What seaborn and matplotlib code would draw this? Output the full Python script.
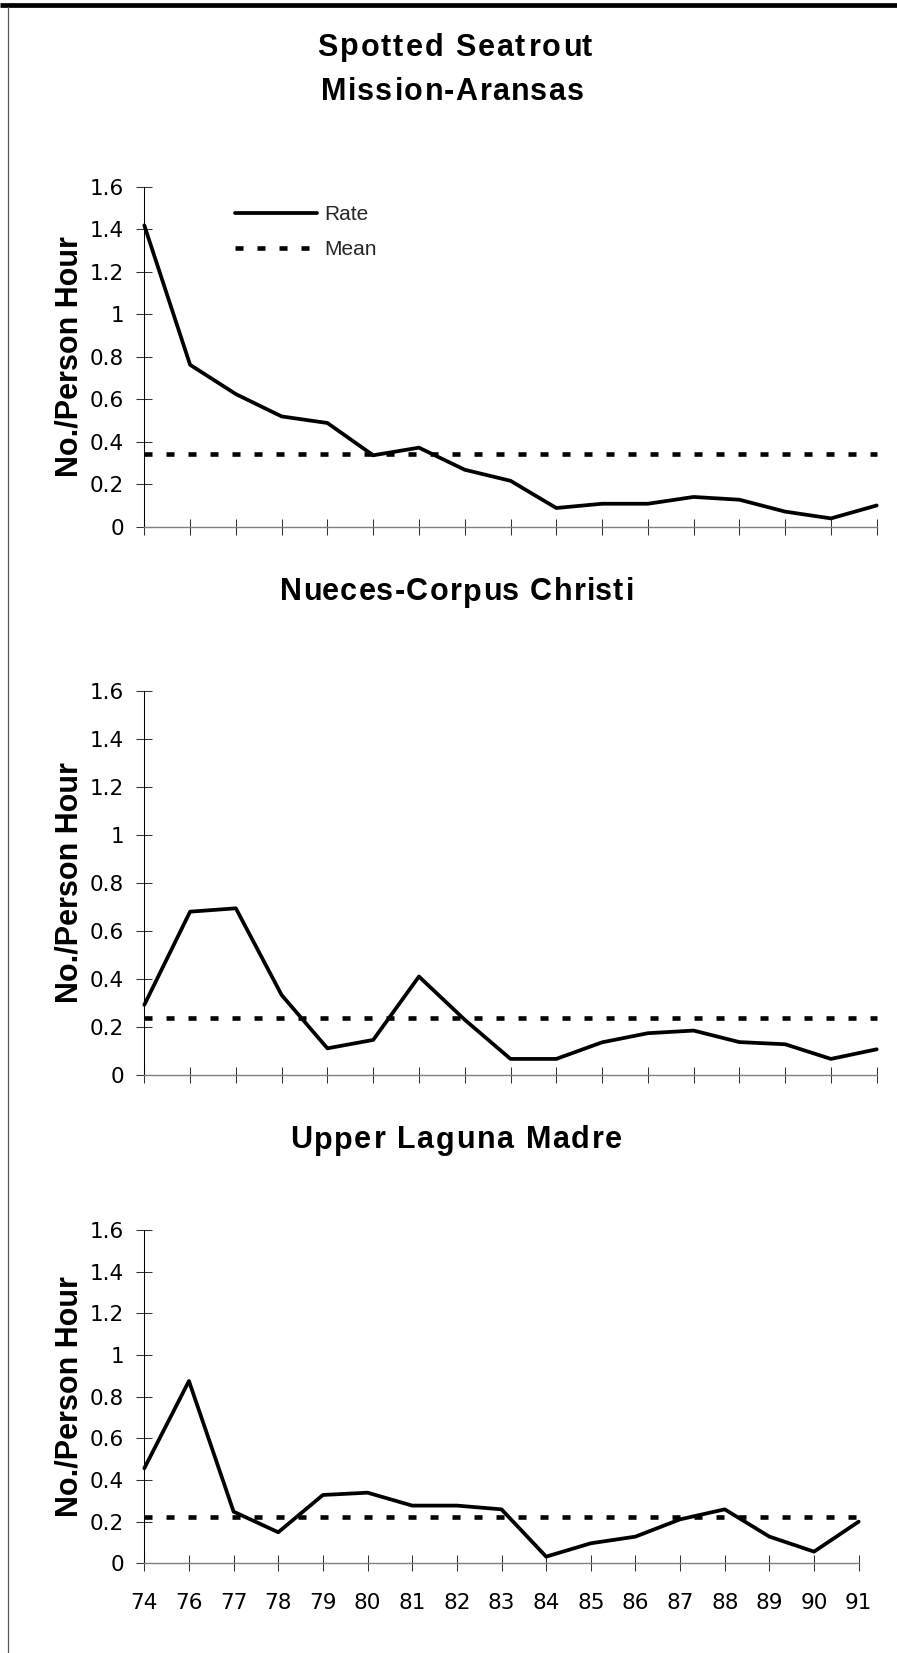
import numpy as np
import pandas as pd
import matplotlib
matplotlib.use("Agg")
import matplotlib.pyplot as plt
import seaborn as sns
from matplotlib.lines import Line2D
from matplotlib.ft2font import FT2Font
from matplotlib import font_manager as fm

# ---------------- data ----------------
years = ["74", "76", "77", "78", "79", "80", "81", "82", "83",
         "84", "85", "86", "87", "88", "89", "90", "91"]
rate_mission = [1.418, 0.762, 0.624, 0.519, 0.488, 0.336, 0.372, 0.268, 0.216,
                0.088, 0.108, 0.108, 0.140, 0.127, 0.071, 0.039, 0.100]
rate_nueces = [0.292, 0.680, 0.694, 0.333, 0.111, 0.146, 0.410, 0.230, 0.067,
               0.067, 0.136, 0.174, 0.185, 0.137, 0.128, 0.067, 0.107]
rate_laguna = [0.456, 0.875, 0.248, 0.149, 0.328, 0.339, 0.277, 0.277, 0.259,
               0.032, 0.096, 0.128, 0.211, 0.259, 0.128, 0.056, 0.200]
mean_mission = 0.342
mean_nueces = 0.236
mean_laguna = 0.224
y_ticks = [0, 0.2, 0.4, 0.6, 0.8, 1.0, 1.2, 1.4, 1.6]
y_tick_labels = ["0", "0.2", "0.4", "0.6", "0.8", "1", "1.2", "1.4", "1.6"]
ylabel = "No./Person Hour"
legend_labels = ["Rate", "Mean"]

# ---------------- style ----------------
sns.set_style("white")
plt.rcParams["font.family"] = ["Liberation Sans", "DejaVu Sans"]

W, H = 897, 1653
fig = plt.figure(figsize=(W / 100, H / 100), dpi=100)
fig.patch.set_facecolor("white")

# page frame (thick top rule, thin left rule)
fig.add_artist(Line2D([0, 1], [1 - 5.3 / H, 1 - 5.3 / H], color="black",
                      lw=3.4, transform=fig.transFigure, solid_capstyle="butt"))
fig.add_artist(Line2D([8 / W, 8 / W], [1 - 7 / H, 0], color="#555555",
                      lw=0.9, transform=fig.transFigure))

font_path = fm.findfont(fm.FontProperties(family="Liberation Sans", weight="bold"))


def spaced_title(text, cx, baseline, size_pt, extra_px):
    ft = FT2Font(font_path)
    ft.set_size(size_pt, 100)
    glyphs = [ft.load_char(ord(ch)) for ch in text]
    adv = [g.linearHoriAdvance / 65536 for g in glyphs]
    total = sum(adv) + extra_px * (len(text) - 1)
    x = cx - total / 2
    for ch, g, a in zip(text, glyphs, adv):
        if ch != " ":
            fig.text((x + g.horiBearingX / 64) / W, 1 - baseline / H, ch,
                     fontsize=size_pt, fontweight="bold", ha="left",
                     va="baseline", family="Liberation Sans", color="black")
        x += a + extra_px


spaced_title("Spotted Seatrout", 454, 55.5, 22, 2.0)
spaced_title("Mission-Aransas", 451, 100, 22, 1.4)
spaced_title("Nueces-Corpus Christi", 455, 600.5, 22, 1.2)
spaced_title("Upper Laguna Madre", 454.5, 1148.5, 22, 1.7)

panels = [
    (rate_mission, mean_mission, (144.3, 186.7, 876.7, 526.7), False, True),
    (rate_nueces, mean_nueces, (144.3, 690.7, 876.7, 1075.0), False, False),
    (rate_laguna, mean_laguna, (144.3, 1230.0, 858.7, 1563.3), True, False),
]

for rates, mean_val, (l, t, r, b), show_x, show_legend in panels:
    ax = fig.add_axes([l / W, 1 - b / H, (r - l) / W, (b - t) / H])
    df = pd.DataFrame({"idx": np.arange(len(years)), "rate": rates})
    sns.lineplot(data=df, x="idx", y="rate", ax=ax, color="black", lw=2.7,
                 label=legend_labels[0], legend=False, zorder=4, clip_on=False)
    ax.axhline(mean_val, color="black", lw=3.3, dashes=(1.75, 3.05),
               dash_capstyle="butt", label=legend_labels[1], zorder=3,
               clip_on=False)
    ax.set_xlim(0, len(years) - 1)
    ax.set_ylim(0, 1.6)
    ax.set_xticks(np.arange(len(years)))
    ax.set_xticklabels(years)
    ax.set_yticks(y_ticks)
    ax.set_yticklabels(y_tick_labels)
    ax.set_xlabel("")
    ax.set_ylabel(ylabel, fontsize=22, fontweight="bold", color="black")
    ax.yaxis.set_label_coords((84.5 - l) / (r - l), 0.5)
    for s in ["top", "right"]:
        ax.spines[s].set_visible(False)
    ax.spines["left"].set_color("black")
    ax.spines["left"].set_linewidth(0.75)
    ax.spines["bottom"].set_color("#808080")
    ax.spines["bottom"].set_linewidth(1.0)
    ax.tick_params(axis="both", direction="inout", length=11.5, width=0.75,
                   color="#333333", labelsize=15.5, labelcolor="black")
    ax.tick_params(axis="y", pad=8.6, left=True)
    ax.tick_params(axis="x", pad=15.5, bottom=True, labelbottom=show_x)
    for lbl in ax.get_xticklabels() + ax.get_yticklabels():
        lbl.set_fontfamily(["DejaVu Sans"])
        lbl.set_fontsize(15.5)
    ax.set_facecolor("white")
    ax.grid(False)
    if show_legend:
        ax.legend(loc="upper left", bbox_to_anchor=(0.124, 0.945),
                  frameon=False, fontsize=15, handlelength=3.94,
                  handletextpad=0.33, borderpad=0, borderaxespad=0,
                  labelspacing=0.74)

fig.savefig("out.png", dpi=100, facecolor="white")
